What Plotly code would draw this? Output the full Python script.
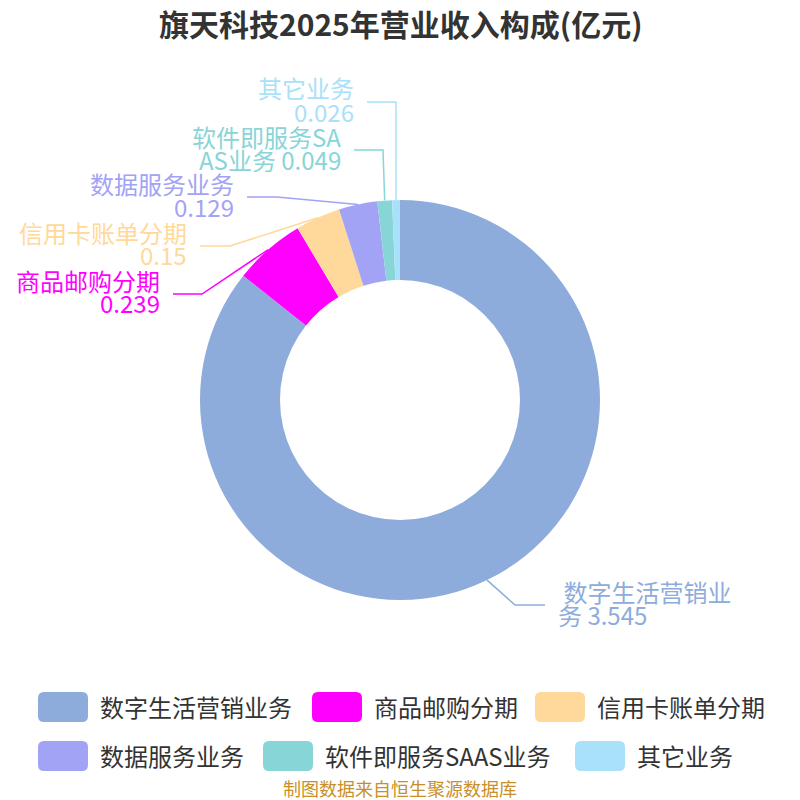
import math
import plotly.graph_objects as go

# ---------------- data ----------------
title_text = "旗天科技2025年营业收入构成(亿元)"
categories = ["数字生活营销业务", "商品邮购分期", "信用卡账单分期",
              "数据服务业务", "软件即服务SAAS业务", "其它业务"]
values = [3.545, 0.239, 0.15, 0.129, 0.049, 0.026]
source_text = "制图数据来自恒生聚源数据库"

# ---------------- styles / layout ----------------
colors = ["#8eacdb", "#ff00ff", "#ffd99b", "#a2a3f5", "#88d5d8", "#a8e1f9"]
OFF = 0
W = H = 800
CX, CY, R = 400, 400, 200   # in screen pixels
FONT = "Noto Sans CJK SC, Noto Sans, sans-serif"
LABEL_SIZE = 24

# label wrapping (char index to break at, or None = break at value)
label_breaks = [7, None, None, None, 7, None]
# elbow point (px) and end x of each leader line, text side
label_elbows = [(515, 605), (202, 294), (230, 246), (277, 197), (383, 150), (396, 102)]
label_ends = [545, 173, 200, 247, 354, 367]
label_side = ["right", "left", "left", "left", "left", "left"]


def px(x):
    return (x - OFF) / W


def py(y):
    return 1 - (y - OFF) / H


fig = go.Figure()
fig.add_trace(go.Pie(
    labels=categories, values=values, sort=False, direction="clockwise",
    rotation=0, hole=0.6, marker=dict(colors=colors, line=dict(width=0)),
    textinfo="none", hoverinfo="label+value", showlegend=False,
    domain=dict(x=[px(CX - R), px(CX + R)], y=[py(CY + R), py(CY - R)]),
))

shapes = []
annotations = []

total = sum(values)
cum = 0.0
for i, (cat, val) in enumerate(zip(categories, values)):
    frac = val / total
    mid = (cum + frac / 2) * 2 * math.pi
    cum += frac
    ax = CX + R * math.sin(mid)
    ay = CY - R * math.cos(mid)
    ex, ey = label_elbows[i]
    endx = label_ends[i]
    shapes.append(dict(
        type="path", xref="paper", yref="paper",
        path=f"M {px(ax)},{py(ay)} L {px(ex)},{py(ey)} L {px(endx)},{py(ey)}",
        line=dict(color=colors[i], width=1.5),
    ))
    full = f"{cat} {val:g}"
    b = label_breaks[i]
    if b is None:
        l1, l2 = cat, f"{val:g}"
    else:
        l1, l2 = full[:b], full[b:]
    if label_side[i] == "right":
        tx = endx + 12
        anchor = "left"
        l1 = " " + l1
    else:
        tx = endx - 12
        anchor = "right"
    for txt, dy in ((l1, -14), (l2, 9)):
        annotations.append(dict(
            x=px(tx), y=py(ey + dy), xref="paper", yref="paper",
            text=txt, showarrow=False, xanchor=anchor, yanchor="middle",
            borderpad=0,
            font=dict(family=FONT, size=LABEL_SIZE, color=colors[i]),
        ))

# custom legend
legend_rows = [[0, 1, 2], [3, 4, 5]]
legend_x = [[38, 312, 535], [38, 263, 575]]
legend_y = [707, 756]
SW, SH, RAD = 50, 30, 6
for r, row in enumerate(legend_rows):
    for j, idx in enumerate(row):
        x0 = legend_x[r][j]
        y0 = legend_y[r] - SH / 2
        x1, y1 = x0 + SW, y0 + SH
        path = (f"M {px(x0 + RAD)},{py(y0)} L {px(x1 - RAD)},{py(y0)} "
                f"Q {px(x1)},{py(y0)} {px(x1)},{py(y0 + RAD)} "
                f"L {px(x1)},{py(y1 - RAD)} Q {px(x1)},{py(y1)} {px(x1 - RAD)},{py(y1)} "
                f"L {px(x0 + RAD)},{py(y1)} Q {px(x0)},{py(y1)} {px(x0)},{py(y1 - RAD)} "
                f"L {px(x0)},{py(y0 + RAD)} Q {px(x0)},{py(y0)} {px(x0 + RAD)},{py(y0)} Z")
        shapes.append(dict(type="path", xref="paper", yref="paper", path=path,
                           fillcolor=colors[idx], line=dict(width=0)))
        annotations.append(dict(
            x=px(x1 + 10), y=py(legend_y[r] - 1), xref="paper", yref="paper",
            text=categories[idx], showarrow=False, xanchor="left", yanchor="middle",
            font=dict(family=FONT, size=24, color="#333333"),
        ))

annotations.append(dict(
    x=px(400), y=py(23), xref="paper", yref="paper", text=f"<b>{title_text}</b>",
    showarrow=False, xanchor="center", yanchor="middle", borderpad=0,
    font=dict(family=FONT, size=30, color="#333333"),
))
annotations.append(dict(
    x=px(400), y=py(788), xref="paper", yref="paper", text=source_text,
    showarrow=False, xanchor="center", yanchor="middle", borderpad=0,
    font=dict(family=FONT, size=18, color="#c8902a"),
))

fig.update_layout(
    width=W, height=H, margin=dict(l=0, r=0, t=0, b=0),
    paper_bgcolor="white", plot_bgcolor="white",
    shapes=shapes, annotations=annotations, showlegend=False,
)

fig.write_html(
    "out.html",
    config={"displayModeBar": False},
    post_script="document.body.style.margin='0px';document.body.style.overflow='hidden';",
)
